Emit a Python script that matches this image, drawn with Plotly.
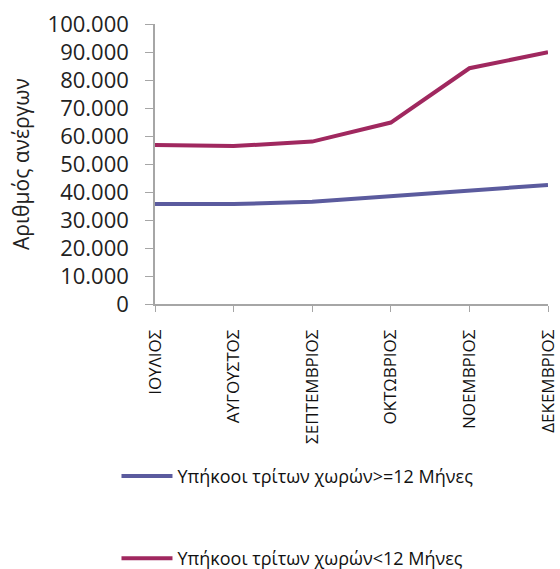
import plotly.graph_objects as go

months = ["ΙΟΥΛΙΟΣ", "ΑΥΓΟΥΣΤΟΣ", "ΣΕΠΤΕΜΒΡΙΟΣ", "ΟΚΤΩΒΡΙΟΣ", "ΝΟΕΜΒΡΙΟΣ", "ΔΕΚΕΜΒΡΙΟΣ"]
long_term = [35700, 35700, 36500, 38600, 40400, 42500]
short_term = [56800, 56400, 58000, 64800, 84200, 89900]
name_long = "Υπήκοοι τρίτων χωρών>=12 Μήνες"
name_short = "Υπήκοοι τρίτων χωρών<12 Μήνες"
y_ticks = [0, 10000, 20000, 30000, 40000, 50000, 60000, 70000, 80000, 90000, 100000]

FONT = "Open Sans, Noto Sans, DejaVu Sans, sans-serif"

fig = go.Figure()
fig.add_trace(go.Scatter(x=months, y=long_term, mode="lines", name=name_long,
                         line=dict(color="#5B5B9E", width=4), legendgroup="a"))
fig.add_trace(go.Scatter(x=months, y=short_term, mode="lines", name=name_short,
                         line=dict(color="#A0285F", width=4), legendgroup="b"))

fig.update_layout(
    width=560, height=569,
    margin=dict(l=155, r=12, t=24, b=265, autoexpand=False),
    paper_bgcolor="white", plot_bgcolor="white",
    separators=",.",
    font=dict(family=FONT, color="#222222"),
    showlegend=True,
    legend=dict(x=-0.098, xanchor="left", y=-0.549, yanchor="top",
                font=dict(size=18, color="#111111"),
                itemwidth=51,
                tracegroupgap=56, traceorder="grouped",
                bgcolor="rgba(0,0,0,0)"),
    xaxis=dict(type="category", range=[0, 5], showgrid=False, automargin=False,
               showline=True, linecolor="#A6A6A6", linewidth=1.5,
               ticks="outside", ticklen=6, tickcolor="#A6A6A6",
               tickangle=-90, tickfont=dict(size=17, family=FONT, color="#111111"),
               ticklabelstandoff=11, ticklabeloverflow="allow"),
    yaxis=dict(range=[0, 100000], tickvals=y_ticks, tickformat=",d", automargin=False,
               showgrid=False, zeroline=False,
               showline=True, linecolor="#A6A6A6", linewidth=1.5,
               ticks="outside", ticklen=8, tickcolor="#A6A6A6",
               tickfont=dict(size=22, family=FONT, color="#222222"),
               ticklabelstandoff=12, ticklabeloverflow="allow",
               title=dict(text="Αριθμός ανέργων", font=dict(size=21, family=FONT, color="#222222"),
                          standoff=12)),
)

# remove the default page margin so the figure fills the 560x569 window exactly
fig.write_html("out.html", config={"displayModeBar": False},
               post_script="document.body.style.margin='0';document.body.style.overflow='hidden';")
